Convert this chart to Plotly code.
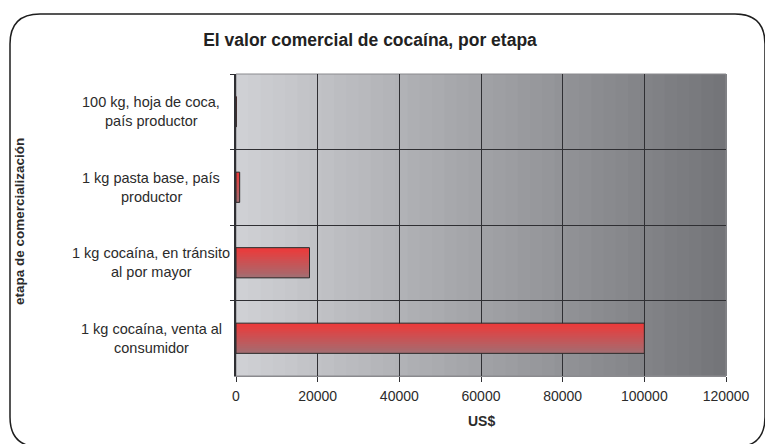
import plotly.graph_objects as go

# ---- data ----
categories = [
    "100 kg, hoja de coca, país productor",
    "1 kg pasta base, país productor",
    "1 kg cocaína, en tránsito al por mayor",
    "1 kg cocaína, venta al consumidor",
]
label_lines = [
    ["100 kg, hoja de coca,", "país productor"],
    ["1 kg pasta base, país", "productor"],
    ["1 kg cocaína, en tránsito", "al por mayor"],
    ["1 kg cocaína, venta al", "consumidor"],
]
values_usd = [60, 900, 18000, 100000]
x_ticks = [0, 20000, 40000, 60000, 80000, 100000, 120000]

title_text = "El valor comercial de cocaína, por etapa"
x_title = "US$"
y_title = "etapa de comercialización"

# ---- layout geometry ----
W, H = 765, 444
L, R, T, B = 236, 39, 74, 68
PW, PH = W - L - R, H - T - B
FONT = "Liberation Sans, Arial, sans-serif"


def px_x(p):
    return (p - L) / PW


def px_y(p):
    return (H - B - p) / PH


fig = go.Figure()

# gradient bars built from thin overlapping slices
bar_w = 0.4
n_slices = 16
step = bar_w / n_slices
top_c = (236, 58, 58)
bot_c = (165, 108, 112)
for i in range(n_slices):
    t = i / (n_slices - 1)
    c = tuple(int(round(top_c[k] + (bot_c[k] - top_c[k]) * t)) for k in range(3))
    w = step * 2 if i < n_slices - 1 else step
    fig.add_trace(go.Bar(
        y=categories, x=values_usd, orientation="h",
        width=w, offset=-bar_w / 2 + i * step,
        marker=dict(color="rgb(%d,%d,%d)" % c, line=dict(width=0)),
        hoverinfo="skip", showlegend=False,
    ))
# outline
fig.add_trace(go.Bar(
    y=categories, x=values_usd, orientation="h",
    width=bar_w, offset=-bar_w / 2,
    marker=dict(color="rgba(0,0,0,0)", line=dict(color="#2a2a2a", width=1)),
    hoverinfo="skip", showlegend=False,
))

shapes = []
# plot-area gradient background
n_strips = 40
left_c = (207, 208, 212)
right_c = (116, 117, 121)
for i in range(n_strips):
    t = i / (n_strips - 1)
    c = tuple(int(round(left_c[k] + (right_c[k] - left_c[k]) * t)) for k in range(3))
    shapes.append(dict(
        type="rect", xref="x domain", yref="y domain",
        x0=i / n_strips, x1=(i + 1) / n_strips + 0.002, y0=0, y1=1,
        fillcolor="rgb(%d,%d,%d)" % c, line=dict(width=0), layer="below",
    ))
# plot-area border (grey)
shapes.append(dict(
    type="rect", xref="x domain", yref="y domain", x0=0, x1=1, y0=0, y1=1,
    line=dict(color="#8a8a8e", width=1), fillcolor="rgba(0,0,0,0)", layer="below",
))

# rounded outer frame
x0, y0, x1, y1, r = 10, 14, 765, 447, 30
pts = [
    ("M", [(x0 + r, y0)]),
    ("L", [(x1 - r, y0)]),
    ("Q", [(x1, y0), (x1, y0 + r)]),
    ("L", [(x1, y1 - r)]),
    ("Q", [(x1, y1), (x1 - r, y1)]),
    ("L", [(x0 + r, y1)]),
    ("Q", [(x0, y1), (x0, y1 - r)]),
    ("L", [(x0, y0 + r)]),
    ("Q", [(x0, y0), (x0 + r, y0)]),
]
path = ""
for cmd, ps in pts:
    path += cmd + " ".join("%.5f,%.5f" % (px_x(a), px_y(b)) for a, b in ps) + " "
path += "Z"
shapes.append(dict(type="path", xref="paper", yref="paper", path=path,
                   line=dict(color="#1e1e1e", width=1.5), fillcolor="rgba(0,0,0,0)",
                   layer="above"))

annotations = []
for cat, lines in zip(categories, label_lines):
    for j, ln in enumerate(lines):
        annotations.append(dict(
            x=px_x(151), xref="paper", y=cat, yref="y",
            text=ln, showarrow=False, xanchor="center", yanchor="middle",
            yshift=9.5 - 19 * j,
            font=dict(family=FONT, size=14.5, color="#2b2b2b"),
        ))
annotations.append(dict(
    x=px_x(20), xref="paper", y=px_y(222), yref="paper",
    text=y_title, textangle=-90, showarrow=False,
    xanchor="center", yanchor="middle",
    font=dict(family=FONT, size=13.5, color="#2b2b2b", weight="bold"),
))
annotations.append(dict(
    x=px_x(481), xref="paper", y=px_y(421), yref="paper",
    text=x_title, showarrow=False, xanchor="center", yanchor="middle",
    font=dict(family=FONT, size=14, color="#2b2b2b", weight="bold"),
))

fig.update_layout(
    width=W, height=H,
    margin=dict(l=L, r=R, t=T, b=B, pad=0),
    paper_bgcolor="white", plot_bgcolor="rgb(170,171,175)",
    barmode="overlay",
    title=dict(text=title_text, x=370 / W, xref="container", xanchor="center",
               y=1 - 40 / H, yref="container", yanchor="middle",
               font=dict(family=FONT, size=17.5, color="#222", weight="bold")),
    shapes=shapes, annotations=annotations,
    showlegend=False,
)
fig.update_xaxes(
    range=[0, 120000], tickvals=x_ticks, tickformat="d",
    showgrid=True, gridcolor="#2f2f33", gridwidth=1,
    ticks="outside", ticklen=5, tickcolor="#2f2f33",
    ticklabelstandoff=2,
    showline=True, linecolor="#8a8a8e", linewidth=1,
    tickfont=dict(family=FONT, size=14, color="#2b2b2b"),
    zeroline=False, fixedrange=True,
)
fig.update_yaxes(
    type="category", categoryorder="array", categoryarray=categories,
    autorange="reversed", tickson="boundaries",
    showgrid=True, gridcolor="#2f2f33", gridwidth=1,
    ticks="outside", ticklen=4, tickcolor="#2f2f33",
    showline=True, linecolor="#2f2f33", linewidth=1.5,
    showticklabels=False, zeroline=False, fixedrange=True,
)

fig.write_html("out.html", config=dict(displayModeBar=False))
